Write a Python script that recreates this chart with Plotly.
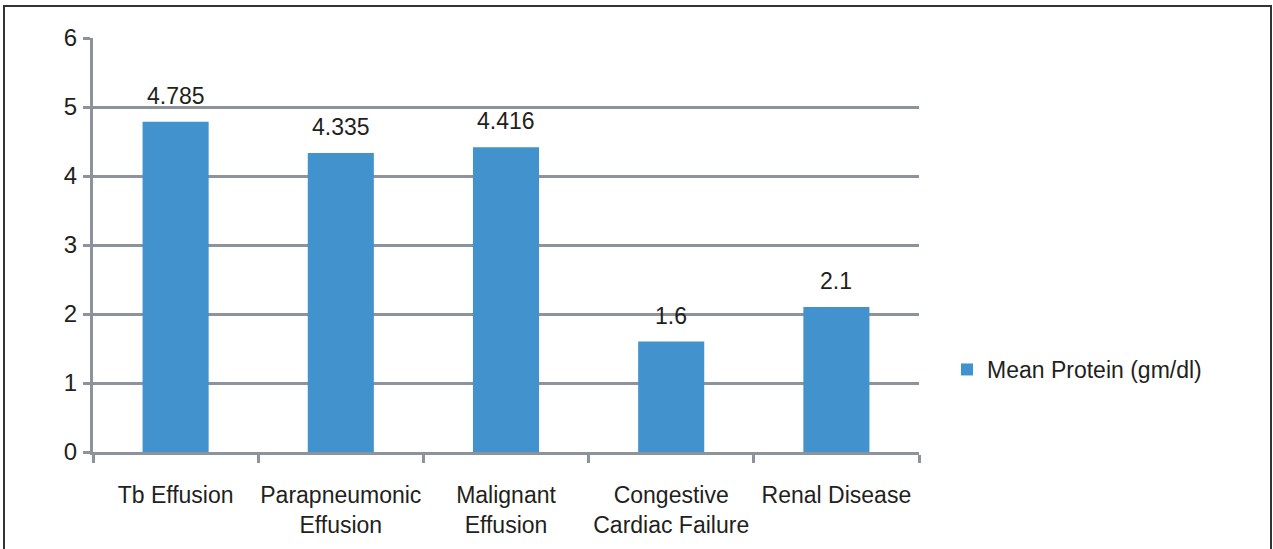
import plotly.graph_objects as go

# Mean protein by cause of effusion
categories = [
    "Tb Effusion",
    "Parapneumonic<br>Effusion",
    "Malignant<br>Effusion",
    "Congestive<br>Cardiac Failure",
    "Renal Disease",
]
mean_protein = [4.785, 4.335, 4.416, 1.6, 2.1]
series_name = "Mean Protein (gm/dl)"
y_ticks = [0, 1, 2, 3, 4, 5, 6]

W, H = 1273, 549
M_L, M_R, M_T, M_B = 93, 354, 38, 97
GRID = "#8c939b"
BAR = "#4192cd"
TXT = "#231f20"
FONT = "Liberation Sans, Arial, sans-serif"

fig = go.Figure()
fig.add_trace(go.Bar(
    x=categories,
    y=mean_protein,
    name=series_name,
    marker=dict(color=BAR, line=dict(width=0)),
    showlegend=True,
))

# value labels above each bar
for cat, val in zip(categories, mean_protein):
    fig.add_annotation(
        x=cat, y=val, text=str(val), showarrow=False,
        xanchor="center", yanchor="bottom", yshift=11,
        font=dict(family=FONT, size=23, color=TXT),
    )

pw = W - M_L - M_R
ph = H - M_T - M_B
# outer frame around the whole chart
fig.add_shape(
    type="rect", xref="paper", yref="paper",
    x0=(4 - M_L) / pw, x1=(1271 - M_L) / pw,
    y0=(M_T + ph - 560) / ph, y1=(M_T + ph - 6) / ph,
    line=dict(color="#333333", width=2), fillcolor="rgba(0,0,0,0)",
    layer="below",
)

fig.update_layout(
    width=W, height=H,
    margin=dict(l=M_L, r=M_R, t=M_T, b=M_B, pad=0),
    paper_bgcolor="white", plot_bgcolor="white",
    bargap=0.6,
    font=dict(family=FONT, size=23, color=TXT),
    legend=dict(
        x=(947 - M_L) / pw, xanchor="left",
        y=(M_T + ph - 369.5) / ph, yanchor="middle",
        font=dict(family=FONT, size=23, color=TXT),
        bgcolor="rgba(0,0,0,0)", borderwidth=0,
    ),
    xaxis=dict(
        type="category",
        automargin=False, tickangle=0,
        showline=True, linecolor=GRID, linewidth=3,
        ticks="outside", tickson="boundaries", ticklen=8,
        tickwidth=3, tickcolor=GRID,
        showgrid=False,
        tickfont=dict(family=FONT, size=23, color=TXT),
        ticklabelstandoff=20,
    ),
    yaxis=dict(
        range=[0, 6], tickvals=y_ticks,
        automargin=False,
        showline=True, linecolor=GRID, linewidth=3,
        ticks="outside", ticklen=7, tickwidth=3, tickcolor=GRID,
        showgrid=True, gridcolor=GRID, gridwidth=3,
        zeroline=False,
        tickfont=dict(family=FONT, size=24, color=TXT),
        ticklabelstandoff=1,
    ),
)

fig.write_html("out.html")
